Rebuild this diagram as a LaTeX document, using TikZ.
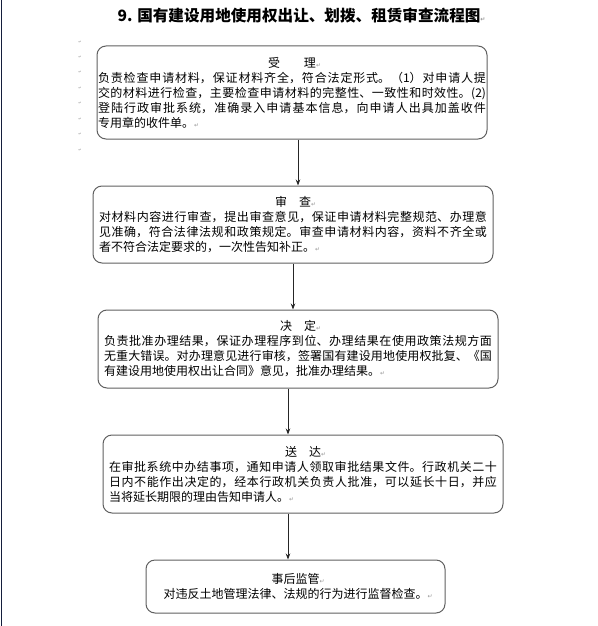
\documentclass[tikz,border=0pt]{standalone}
\usepackage{fontspec}
\setmainfont{Noto Sans CJK SC}
\newfontfamily\symfont{DejaVu Sans}
\usepackage{tikz}
\usetikzlibrary{arrows.meta}

\XeTeXlinebreaklocale "zh"
\XeTeXlinebreakskip=0pt plus 1pt

\definecolor{boxgray}{RGB}{96,96,96}
\definecolor{pmgray}{RGB}{150,150,150}
\definecolor{rulenavy}{RGB}{20,30,60}
\newcommand{\pmark}{{\fontsize{6pt}{6pt}\selectfont\color{pmgray}\symfont ↵}}

\begin{document}
\begin{tikzpicture}[x=1pt,y=-1pt]
\useasboundingbox (0,0) rectangle (597,626);

%page rule on the left
\draw[rulenavy,line width=1pt] (1,0) -- (1,626);

%title line
\node (title) at (299,16) {\fontsize{15.6pt}{18pt}\selectfont\bfseries 9. 国有建设用地使用权出让、划拨、租赁审查流程图\rlap{\pmark}};

%empty paragraph marks in the margin
\foreach \y in {42,57,72,88,103,119,134,150}
    \node[inner sep=0pt] (pm\y) at (80,\y) {\fontsize{4pt}{4pt}\selectfont\color{pmgray}\symfont ↵};

%the five steps, rounded grey boxes
\begin{scope}[every node/.style={draw=boxgray,line width=1pt,rounded corners=9pt,
              inner xsep=1pt,inner ysep=0pt,font=\fontsize{12pt}{15pt}\selectfont}]
    \node[minimum width=390pt,minimum height=93pt,text width=388pt,align=justify] (accept) at (292,92.5) {%
        \centerline{受\hspace{2em}理\rlap{\pmark}}
        \noindent 负责检查申请材料，保证材料齐全，符合法定形式。（1）对申请人提\linebreak
        交的材料进行检查，主要检查申请材料的完整性、一致性和时效性。(2)\linebreak
        登陆行政审批系统，准确录入申请基本信息，向申请人出具加盖收件\linebreak
        专用章的收件单。\pmark};
    \node[minimum width=400pt,minimum height=77pt,text width=388pt,align=justify] (review) at (293,224.5) {%
        \centerline{审\hspace{1em}查\rlap{\pmark}}
        \noindent 对材料内容进行审查，提出审查意见，保证申请材料完整规范、办理意\linebreak
        见准确，符合法律法规和政策规定。审查申请材料内容，资料不齐全或\linebreak
        者不符合法定要求的，一次性告知补正。\pmark};
    \node[minimum width=400pt,minimum height=78pt,text width=388pt,align=justify] (decide) at (298,349) {%
        \centerline{决\hspace{1em}定\rlap{\pmark}}
        \noindent 负责批准办理结果，保证办理程序到位、办理结果在使用政策法规方面\linebreak
        无重大错误。对办理意见进行审核，签署国有建设用地使用权批复、《国\linebreak
        有建设用地使用权出让合同》意见，批准办理结果。\pmark};
    \node[minimum width=400pt,minimum height=78pt,text width=388pt,align=justify] (deliver) at (303,474) {%
        \centerline{送\hspace{1em}达\rlap{\pmark}}
        \noindent 在审批系统中办结事项，通知申请人领取审批结果文件。行政机关二十\linebreak
        日内不能作出决定的，经本行政机关负责人批准，可以延长十日，并应\linebreak
        当将延长期限的理由告知申请人。\pmark};
    \node[minimum width=299pt,minimum height=53pt,align=center] (supervise) at (295.5,586.5) {%
        事后监管\rlap{\pmark}\\
        对违反土地管理法律、法规的行为进行监督检查。\rlap{\pmark}};
\end{scope}

%arrows between the steps, each one at its own x
\coordinate (c1) at (298,0);
\coordinate (c2) at (293,0);
\coordinate (c3) at (288,0);
\coordinate (c4) at (288,0);
\begin{scope}[>={Stealth[length=6pt,width=4.5pt]},
              every path/.style={draw=black!85,line width=0.8pt}]
    \draw[->] (accept.south -| c1) -- (review.north -| c1);
    \draw[->] (review.south -| c2) -- (decide.north -| c2);
    \draw[->] (decide.south -| c3) -- (deliver.north -| c3);
    \draw[->] (deliver.south -| c4) -- (supervise.north -| c4);
\end{scope}
\end{tikzpicture}
\end{document}
